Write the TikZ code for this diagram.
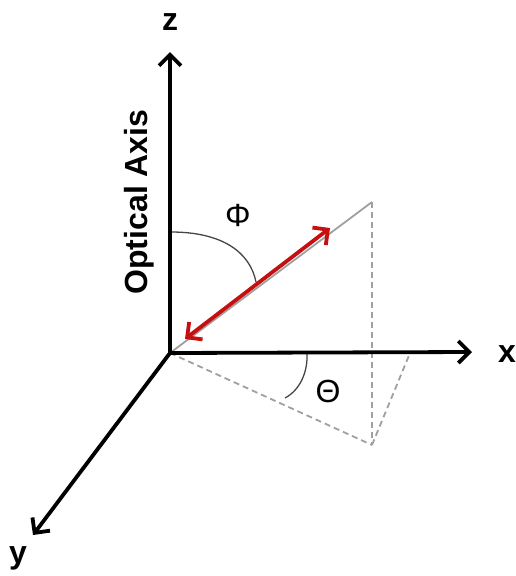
\documentclass[tikz,border=0pt]{standalone}
\usepackage{fontspec}
\setmainfont{Liberation Sans}
\usetikzlibrary{arrows.meta}
\definecolor{arrowred}{RGB}{196,16,16}
\definecolor{guide}{RGB}{160,160,160}
\definecolor{arcgray}{RGB}{70,70,70}
\tikzset{
  axis/.style={line width=3.8pt, black, -{Straight Barb[length=11pt, width=22pt]}},
  axislabel/.style={font=\fontsize{32}{32}\selectfont\bfseries, inner sep=0pt},
  anglabel/.style={font=\fontsize{32}{32}\selectfont, inner sep=0pt},
  guideline/.style={line width=1.8pt, guide},
  dashguide/.style={line width=1.8pt, guide, dash pattern=on 6pt off 4pt},
  anglearc/.style={line width=1.3pt, arcgray},
  dipole/.style={line width=3.8pt, arrowred, {Straight Barb[length=11pt, width=22pt]}-{Straight Barb[length=11pt, width=22pt]}}
}
\begin{document}
\begin{tikzpicture}[x=1pt, y=-1pt]
\useasboundingbox (0,0) rectangle (515,576);
% key points
\coordinate (O) at (170,353);
\coordinate (ztip) at (170,52);
\coordinate (xtip) at (472,352);
\coordinate (ytip) at (33,535);
\coordinate (P) at (372,202);
\coordinate (Q) at (372,445);
\coordinate (R) at (410,353);
\coordinate (d1) at (185,339);
\coordinate (d2) at (330,228);
\coordinate (phiA) at (171,232);
\coordinate (phiB) at (256,282);
\coordinate (thA) at (307,353);
\coordinate (thB) at (285,398);
% guides
\draw[guideline] (O) -- (P);
\draw[dashguide] (P) -- (Q);
\draw[dashguide] (O) -- (Q);
\draw[dashguide] (Q) -- (R);
% angle arcs
\draw[anglearc] (phiA) .. controls (222,232) and (250,252) .. (phiB);
\draw[anglearc] (thA) .. controls (308,372) and (300,390) .. (thB);
% axes
\draw[axis] (O) -- (ztip);
\draw[axis] (O) -- (xtip);
\draw[axis] (O) -- (ytip);
% dipole
\draw[dipole] (d1) -- (d2);
% labels
\node[axislabel] (zl) at (170,22) {z};
\node[axislabel] (xl) at (507,354) {x};
\node[axislabel] (yl) at (18,558) {y};
\node[axislabel, rotate=90] (oa) at (139.5,202) {Optical Axis};
\node[anglabel] (phi) at (238,215) {Φ};
\node[anglabel] (theta) at (328,391) {Θ};
\end{tikzpicture}
\end{document}
